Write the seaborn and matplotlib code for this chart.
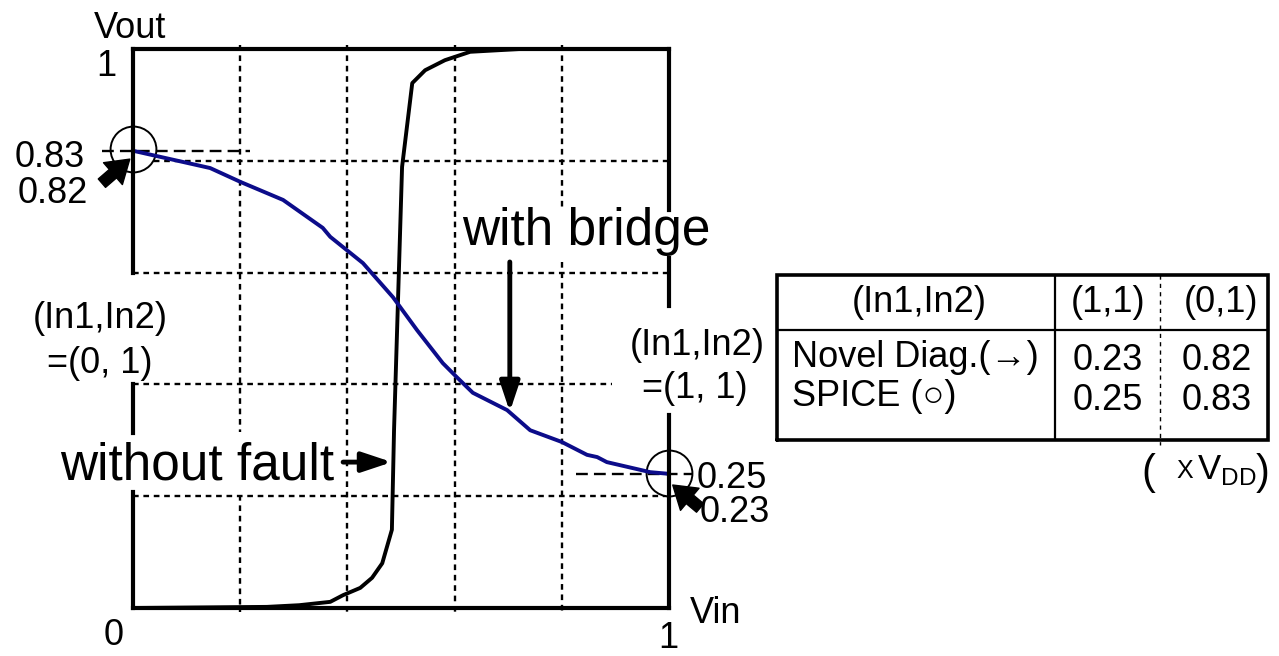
import matplotlib
matplotlib.use("Agg")
import matplotlib.pyplot as plt
import seaborn as sns
import pandas as pd

# ---------------- data ----------------
vin_bridge = [0, 0.144, 0.201, 0.280, 0.354, 0.368, 0.429, 0.485, 0.530, 0.578,
              0.604, 0.634, 0.698, 0.741, 0.800, 0.847, 0.866, 0.884, 0.965, 1.0]
vout_bridge = [0.818, 0.787, 0.762, 0.730, 0.680, 0.664, 0.617, 0.556, 0.497, 0.438,
               0.413, 0.385, 0.354, 0.318, 0.297, 0.274, 0.270, 0.261, 0.243, 0.240]

vin_nofault = [0, 0.25, 0.31, 0.368, 0.392, 0.424, 0.446, 0.465, 0.483, 0.487,
               0.502, 0.521, 0.545, 0.582, 0.629, 0.722, 1.0]
vout_nofault = [0, 0.002, 0.005, 0.011, 0.023, 0.036, 0.054, 0.080, 0.140, 0.318,
                0.789, 0.939, 0.962, 0.980, 0.995, 1.0, 1.0]

spice_vin = [0, 1]
spice_vout = [0.821, 0.241]

table_header = ["(In1,In2)", "(1,1)", "(0,1)"]
table_rows = ["Novel Diag.(\u2192)", "SPICE (\u25cb)"]
col_11 = ["0.23", "0.25"]
col_01 = ["0.82", "0.83"]

# ---------------- style ----------------
sns.set_theme(style="white")
plt.rcParams["font.family"] = ["Liberation Sans", "DejaVu Sans"]
plt.rcParams["text.color"] = "black"

fig = plt.figure(figsize=(12.79, 6.56), dpi=100)
fig.patch.set_facecolor("white")
ax = fig.add_axes([133 / 1279, 1 - 608 / 656, 536 / 1279, 559 / 656])

GRID = dict(color="black", lw=1.7, ls=(0, (2.4, 2.0)), zorder=1, clip_on=False)

# vertical grid segments (x, y0, y1)
vgrid = [(0.2, 1.007, 0.315), (0.2, 0.202, -0.008),
         (0.4, 1.007, -0.008), (0.6, 1.007, -0.008),
         (0.8, 1.007, 0.712), (0.8, 0.619, -0.008)]
for x, y0, y1 in vgrid:
    ax.plot([x, x], [y0, y1], **GRID)
# horizontal grid segments (y, x0, x1)
hgrid = [(0.8, 0.0, 1.0), (0.6, 0.0, 1.0), (0.4, 0.0, 0.894), (0.2, 0.0, 1.007)]
for y, x0, x1 in hgrid:
    ax.plot([x0, x1], [y, y], **GRID)

# SPICE circles (white filled)
ax.plot(spice_vin, spice_vout, ls="none", marker="o", ms=33, mfc="white",
        mec="black", mew=1.4, zorder=2, clip_on=False)

# reference dashed lines
REF = dict(color="black", lw=1.7, ls=(0, (5, 2.6)), zorder=2.5, clip_on=False)
ax.plot([-0.058, 0.218], [0.8175, 0.8175], **REF)
ax.plot([0.826, 1.043], [0.2397, 0.2397], **REF)

# curves
df_b = pd.DataFrame({"Vin": vin_bridge, "Vout": vout_bridge})
df_n = pd.DataFrame({"Vin": vin_nofault, "Vout": vout_nofault})
sns.lineplot(data=df_n, x="Vin", y="Vout", ax=ax, color="black", lw=2.8,
             estimator=None, sort=False, zorder=3)
sns.lineplot(data=df_b, x="Vin", y="Vout", ax=ax, color="#0c0c8a", lw=2.8,
             estimator=None, sort=False, zorder=3.2)
for l in ax.lines:
    l.set_clip_on(False)
ax.set_xlim(0, 1)
ax.set_ylim(0, 1)
ax.axis("off")

# frame (with gaps where text sits)
SP = dict(color="black", lw=3, zorder=4, clip_on=False, solid_capstyle="projecting")
ax.plot([0, 1], [1, 1], **SP)
ax.plot([0, 1], [0, 0], **SP)
for y0, y1 in [(1, 0.6), (0.4, 0.313), (0.2075, 0)]:
    ax.plot([0, 0], [y0, y1], **SP)
for y0, y1 in [(1, 0.712), (0.626, 0.540), (0.345, 0)]:
    ax.plot([1, 1], [y0, y1], **SP)

# ---------------- texts ----------------
FS = 26
BIG = 37
ax.text(-0.006, 1.020, "Vout", fontsize=FS, ha="center", va="baseline")
ax.text(-0.050, 0.952, "1", fontsize=FS, ha="center", va="baseline")
ax.text(-0.037, -0.066, "0", fontsize=FS, ha="center", va="baseline")
ax.text(0.998, -0.072, "1", fontsize=FS, ha="center", va="baseline")
ax.text(1.039, -0.027, "Vin", fontsize=FS, ha="left", va="baseline")
ax.text(-0.090, 0.789, "0.83", fontsize=FS, ha="right", va="baseline")
ax.text(-0.084, 0.7245, "0.82", fontsize=FS, ha="right", va="baseline")
ax.text(1.052, 0.215, "0.25", fontsize=FS, ha="left", va="baseline")
ax.text(1.058, 0.154, "0.23", fontsize=FS, ha="left", va="baseline")
ax.text(-0.062, 0.501, "(In1,In2)", fontsize=FS, ha="center", va="baseline")
ax.text(-0.062, 0.420, "=(0, 1)", fontsize=FS, ha="center", va="baseline")
ax.text(1.052, 0.4526, "(In1,In2)", fontsize=FS, ha="center", va="baseline")
ax.text(1.049, 0.376, "=(1, 1)", fontsize=FS, ha="center", va="baseline")
ax.text(0.614, 0.649, "with bridge", fontsize=BIG, ha="left", va="baseline")
ax.text(-0.136, 0.229, "without fault", fontsize=BIG, ha="left", va="baseline")

# pointer arrows
ARR = dict(arrowstyle="-|>,head_width=0.3,head_length=0.9",
           lw=3.5, color="black", mutation_scale=20, shrinkA=0, shrinkB=0)
ax.annotate("", xy=(0.703, 0.351), xytext=(0.703, 0.619), arrowprops=ARR,
            zorder=5, annotation_clip=False)
ax.annotate("", xy=(0.483, 0.261), xytext=(0.392, 0.261), arrowprops=ARR,
            zorder=5, annotation_clip=False)
FAT = dict(arrowstyle="simple,head_width=1.3,head_length=1.0,tail_width=0.5",
           color="black", mutation_scale=16, shrinkA=0, shrinkB=0)
ax.annotate("", xy=(-0.006, 0.803), xytext=(-0.058, 0.760), arrowprops=FAT,
            zorder=5, annotation_clip=False)
ax.annotate("", xy=(1.007, 0.220), xytext=(1.058, 0.179), arrowprops=FAT,
            zorder=5, annotation_clip=False)

# ---------------- table ----------------
ax2 = fig.add_axes([777 / 1279, 1 - 440 / 656, 491 / 1279, 165 / 656])
ax2.set_xlim(0, 1)
ax2.set_ylim(0, 1)
ax2.axis("off")
ax2.plot([0, 1, 1, 0, 0], [0, 0, 1, 1, 0], color="black", lw=2.6, clip_on=False,
         solid_joinstyle="miter")
ax2.plot([0, 1], [0.667, 0.667], color="black", lw=1.6, clip_on=False)
ax2.plot([0.566, 0.566], [0, 1], color="black", lw=1.6, clip_on=False)
ax2.plot([0.780, 0.780], [1, -0.03], color="black", lw=1.0, ls=(0, (3, 3)), clip_on=False)

TFS = 26
hx = [0.290, 0.674, 0.905]
for x, t in zip(hx, table_header):
    ax2.text(x, 0.836, t, fontsize=TFS, ha="center", va="center")
ry = [0.503, 0.261]
for y, t in zip(ry, table_rows):
    ax2.text(0.031, y, t, fontsize=TFS, ha="left", va="center")
for y, a, b in zip(ry, col_11, col_01):
    ax2.text(0.674, y - 0.02, a, fontsize=TFS, ha="center", va="center")
    ax2.text(0.896, y - 0.02, b, fontsize=TFS, ha="center", va="center")

ax2.text(0.756, -0.20, "(", fontsize=30, ha="center", va="center")
ax2.text(0.831, -0.19, "X", fontsize=18, ha="center", va="center")
ax2.text(0.855, -0.235, "V$_{\\mathregular{DD}}$", fontsize=25, ha="left", va="baseline")
ax2.text(0.99, -0.20, ")", fontsize=30, ha="center", va="center")

fig.savefig("out.png", dpi=100, facecolor="white")
